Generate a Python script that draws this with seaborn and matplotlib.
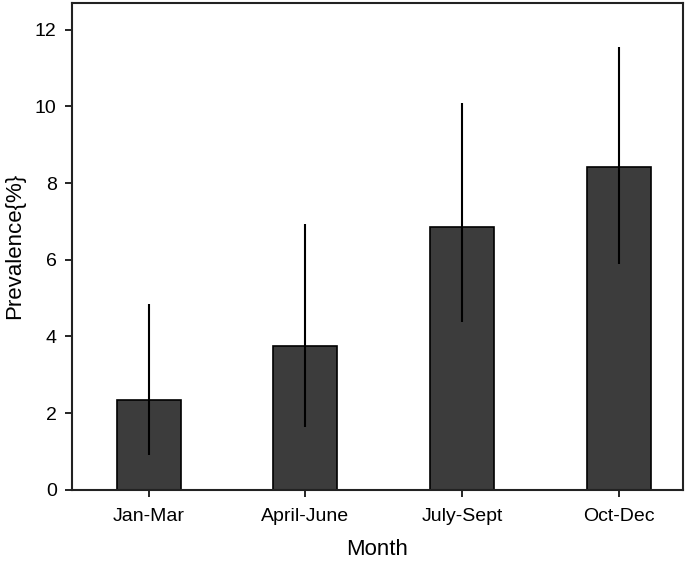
import matplotlib
matplotlib.use('Agg')
import numpy as np
import pandas as pd
import matplotlib.pyplot as plt
import seaborn as sns

months = ['Jan-Mar', 'April-June', 'July-Sept', 'Oct-Dec']
prevalence = [2.33, 3.76, 6.85, 8.41]
ci_low = [0.9, 1.64, 4.38, 5.9]
ci_high = [4.85, 6.94, 10.1, 11.55]

sns.set_style('white')
plt.rcParams['font.family'] = ['Liberation Sans', 'DejaVu Sans']
plt.rcParams['text.color'] = 'black'
plt.rcParams['axes.labelcolor'] = 'black'

df = pd.DataFrame({'Month': months, 'Prevalence': prevalence})

fig = plt.figure(figsize=(6.85, 5.63), dpi=100)
ax = fig.add_axes([0.105, 0.130, 0.892, 0.865])

sns.barplot(data=df, x='Month', y='Prevalence', color='#3c3c3c', width=0.41,
            edgecolor='black', linewidth=1.2, saturation=1, errorbar=None, ax=ax)

# asymmetric error bars, no caps
vals = np.array(prevalence)
yerr = [vals - np.array(ci_low), np.array(ci_high) - vals]
ax.errorbar(np.arange(len(months)), vals, yerr=yerr, fmt='none',
            ecolor='black', elinewidth=1.5, capsize=0)

ax.set_xlim(-0.49, 3.41)
ax.set_ylim(0, 12.7)
ax.set_yticks(range(0, 13, 2))
ax.set_xlabel('Month', fontsize=16, labelpad=10)
ax.set_ylabel('Prevalence{%}', fontsize=16)
ax.yaxis.set_label_coords(-0.076, 0.5)
ax.tick_params(axis='both', which='major', labelsize=14, length=5, width=1.2,
               direction='out', colors='black', pad=8)
ax.tick_params(axis='x', bottom=True)
ax.tick_params(axis='y', left=True, pad=6)
for s in ax.spines.values():
    s.set_visible(True)
    s.set_color('#222222')
    s.set_linewidth(1.5)

fig.savefig('out.png', dpi=100)
